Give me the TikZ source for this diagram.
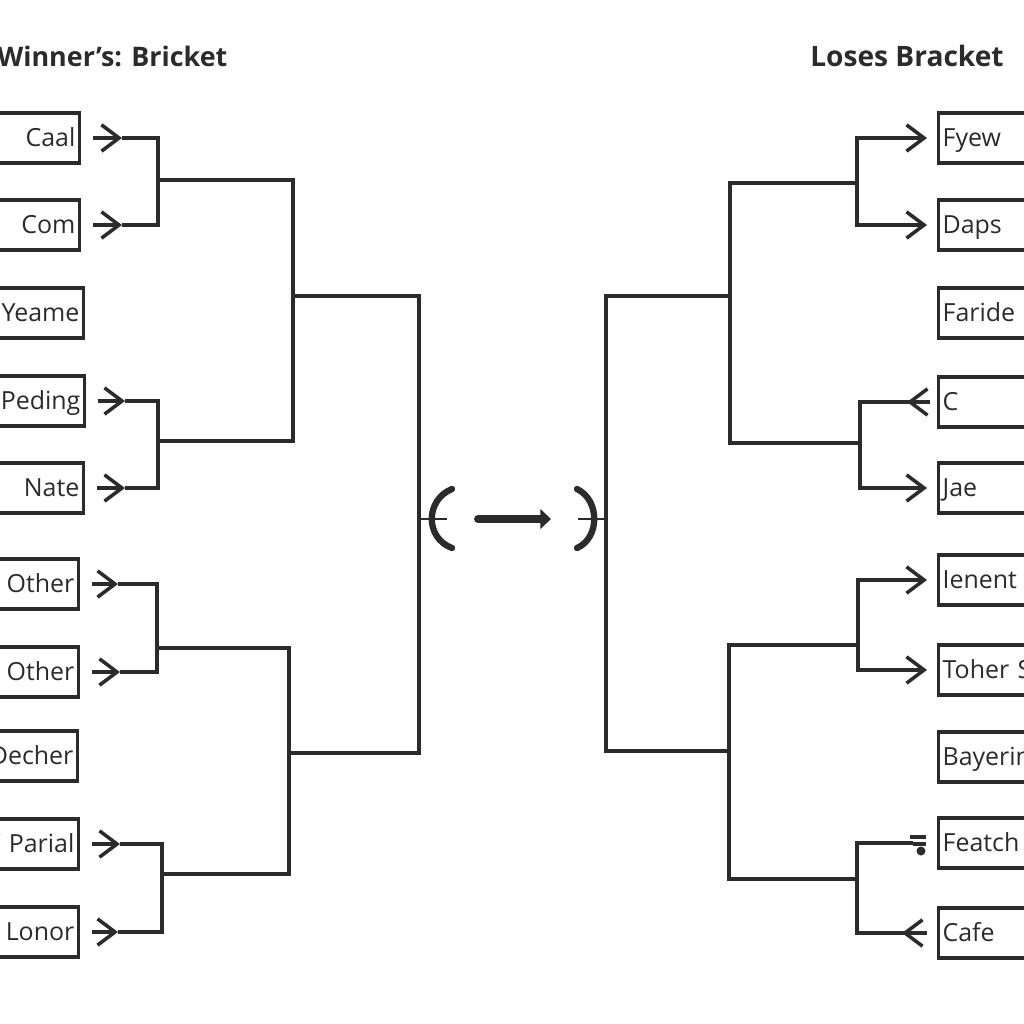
\documentclass[tikz,border=0pt]{standalone}
\usepackage{fontspec}
\setmainfont{Open Sans}
\usetikzlibrary{arrows.meta}

\definecolor{ink}{HTML}{2B2B2B}

\tikzset{%
  every team/.style={
    draw=ink,
    line width=1.8pt,
    minimum height=1cm,
    text width=3cm,
    inner xsep=2.3pt,
    text height=10pt,
    text depth=0pt,
    text=ink,
    font=\fontsize{14.2}{16}\selectfont
  },
  team win/.style={anchor=east, align=right},
  team lose/.style={anchor=west, align=left},
  bracket/.style={draw=ink, line width=1.8pt},
  barb/.style={-{Straight Barb[length=10pt, width=15pt, line width=2pt]}},
  paren/.style={draw=ink, line width=3.6pt, line cap=round},
  bracket title/.style={font=\fontsize{16}{18}\selectfont\bfseries, text=ink, inner sep=0pt},
}

\begin{document}
\begin{tikzpicture}[x=0.02cm, y=-0.02cm]
\useasboundingbox (0,0) rectangle (1024,1024);

\node [bracket title, anchor=base west, font=\fontsize{15.3}{18}\selectfont\bfseries] (win-title) at (-3,67) {Winner’s: Bricket};
\node [bracket title, anchor=base east] (lose-title) at (1004,67) {Loses Bracket};

% winners side
\foreach \m/\r/\l [count=\y] in {138/81/Caal, 225/81/Com, 313/85/Yeame, 401/86/Peding, 488/85/Nate,
    584/80/Other, 672/80/Other, 756/79/Decher, 844/80/V Parial, 932/80/Lonor}
  \node [every team, team win] (win-\y) at (\r,\m) {\l};

\foreach \i/\t in {1/122, 2/122, 4/125, 5/125, 6/118, 7/120, 9/120, 10/118}
  \draw [bracket, barb, shorten <=0.24cm] (win-\i.east) -- (\t,0 |- win-\i.east) coordinate (wt-\i);

\coordinate (wj-1) at (158,180);
\coordinate (wj-2) at (158,441);
\coordinate (wj-3) at (157,648);
\coordinate (wj-4) at (162,874);
\coordinate (wk-1) at (293,296);
\coordinate (wk-2) at (289,753);
\coordinate (wf) at (419,519);

\draw [bracket] (wt-1) -| (wj-1) |- (wt-2);
\draw [bracket] (wt-4) -| (wj-2) |- (wt-5);
\draw [bracket] (wt-6) -| (wj-3) |- (wt-7);
\draw [bracket] (wt-9) -| (wj-4) |- (wt-10);
\draw [bracket] (wj-1) -| (wk-1) |- (wj-2);
\draw [bracket] (wj-3) -| (wk-2) |- (wj-4);
\draw [bracket] (wk-1) -| (wf) |- (wk-2);

% losers side
\foreach \m/\l [count=\y] in {138/Fyew, 225/Daps, 313/Faride, 402/C, 488/Jae,
    580/Ienent, 670/Toher S, 757/Bayerin, 843/Featch, 933/Cafe}
  \node [every team, team lose] (lose-\y) at (937,\m) {\l};

\coordinate (rj-1) at (857,183);
\coordinate (rj-2) at (860,443);
\coordinate (rj-3) at (858,645);
\coordinate (rj-4) at (857,879);
\coordinate (rk-1) at (730,296);
\coordinate (rk-2) at (729,751);
\coordinate (rf) at (606,519);

\foreach \j/\i in {1/1, 1/2, 2/5, 3/6, 3/7}
  \draw [bracket, barb, shorten >=0.2cm] (rj-\j) |- (lose-\i.west);

\draw [bracket, shorten >=0.14cm] (rj-2) |- (lose-4.west);
\draw [bracket, barb] ([xshift=-0.14cm]lose-4.west) -- ([xshift=-0.6cm]lose-4.west);
\draw [bracket, shorten >=0.2cm] (rj-4) |- (lose-10.west);
\draw [bracket, barb] ([xshift=-0.2cm]lose-10.west) -- ([xshift=-0.7cm]lose-10.west);
\draw [bracket, shorten >=0.48cm] (rj-4) |- (lose-9.west);
\fill [ink] (910,835) rectangle (926,839);
\fill [ink] (913,842) rectangle (926,846);
\fill [ink] (921,851) circle (0.09cm);

\draw [bracket] (rj-1) -| (rk-1) |- (rj-2);
\draw [bracket] (rj-3) -| (rk-2) |- (rj-4);
\draw [bracket] (rk-1) -| (rf) |- (rk-2);

% middle
\coordinate (lp) at (447,519);
\coordinate (rp) at (578,519);
\draw [bracket, line width=1.3pt] (wf) -- (lp);
\draw [bracket, line width=1.3pt] (rf) -- (rp);
\draw [paren] (452,489) .. controls (425,500) and (425,538) .. (452,548);
\draw [paren] (577,489) .. controls (600,500) and (600,538) .. (577,548);
\draw [draw=ink, line width=4.5pt, line cap=round, -{Triangle[length=6pt, width=11pt]}] (478,519) -- (551,519);

\end{tikzpicture}
\end{document}
